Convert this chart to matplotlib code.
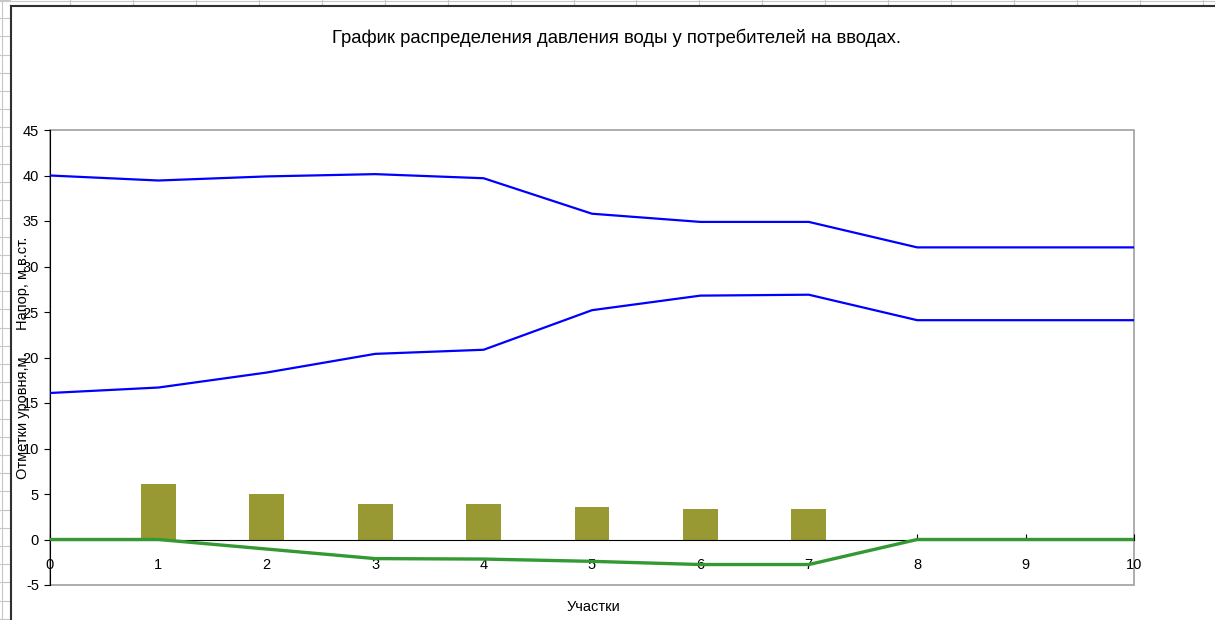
import matplotlib.pyplot as plt
from matplotlib.lines import Line2D
from matplotlib.patches import Rectangle

plt.rcParams['font.family'] = ['Liberation Sans', 'DejaVu Sans']
plt.rcParams['axes.unicode_minus'] = False

W, H = 1215, 620

# участки сети
sections = [0, 1, 2, 3, 4, 5, 6, 7, 8, 9, 10]
head_upper = [40.0, 39.45, 39.9, 40.15, 39.7, 35.8, 34.9, 34.9, 32.1, 32.1, 32.1]
head_lower = [16.1, 16.7, 18.35, 20.4, 20.85, 25.2, 26.8, 26.9, 24.1, 24.1, 24.1]
ground_level = [0, 0, -1.05, -2.1, -2.15, -2.4, -2.75, -2.75, 0, 0, 0]

# напор у потребителей
consumer_pos = [1, 2, 3, 4, 5, 6, 7]
consumer_head = [6.05, 4.95, 3.85, 3.85, 3.6, 3.3, 3.3]

fig = plt.figure(figsize=(W / 100, H / 100), dpi=100)


def px(x, y):
    return x / W, 1 - y / H


# сетка листа за диаграммой
grid_c = '#c8c8c8'
y = 0.0
while y < H:
    fig.add_artist(Line2D([0, 10 / W], [1 - y / H] * 2, color=grid_c, lw=0.8))
    y += 18.2
fig.add_artist(Line2D([2 / W] * 2, [0, 1], color=grid_c, lw=0.8))
x = 70.0
while x < W:
    fig.add_artist(Line2D([x / W] * 2, [1, 1 - 5 / H], color=grid_c, lw=0.8))
    x += 62.94
fig.add_artist(Line2D([0, 1], [1 - 1 / H] * 2, color=grid_c, lw=0.8))

# рамка диаграммы
fig.add_artist(Line2D([11 / W, 1], [1 - 5.5 / H] * 2, color='#303030', lw=1.5))
fig.add_artist(Line2D([11 / W] * 2, [0, 1 - 5.5 / H], color='#303030', lw=1.5))

l, b = px(50, 585)
r, t = px(1134, 130)
ax = fig.add_axes([l, b, r - l, t - b])

ax.bar(consumer_pos, consumer_head, width=0.32, color='#999933', zorder=2)
ax.plot(sections, head_upper, color='#0000ff', lw=1.6, zorder=3)
ax.plot(sections, head_lower, color='#0000ff', lw=1.6, zorder=3)
ax.plot(sections, ground_level, color='#339933', lw=2.4, zorder=4)

ax.set_xlim(0, 10)
ax.set_ylim(-5, 45)
ax.set_xticks(range(0, 11))
ax.set_yticks(range(-5, 46, 5))

ax.add_patch(Rectangle((0, 0), 1, 1, transform=ax.transAxes, fill=False,
                       edgecolor='#a0a0a0', lw=1.2, clip_on=False, zorder=1))
ax.spines['top'].set_visible(False)
ax.spines['right'].set_visible(False)
ax.spines['bottom'].set_position(('data', 0))
ax.spines['bottom'].set_color('black')
ax.spines['bottom'].set_zorder(2.5)
ax.spines['left'].set_color('black')

ax.tick_params(axis='y', direction='out', length=4, pad=4, labelsize=10.5)
ax.tick_params(axis='x', direction='in', length=4, pad=13, labelsize=10.5)

fig.text(*px(616, 38), 'График распределения давления воды у потребителей на вводах.',
         ha='center', va='center', fontsize=13.3)
fig.text(*px(593, 607), 'Участки', ha='center', va='center', fontsize=10.5)
fig.text(*px(23, 283), 'Напор, м.в.ст.', rotation=90, ha='center', va='center',
         fontsize=10.5)
fig.text(*px(23, 416), 'Отметки уровня,м.', rotation=90, ha='center', va='center',
         fontsize=10.5)

fig.savefig('out.png', dpi=100)
